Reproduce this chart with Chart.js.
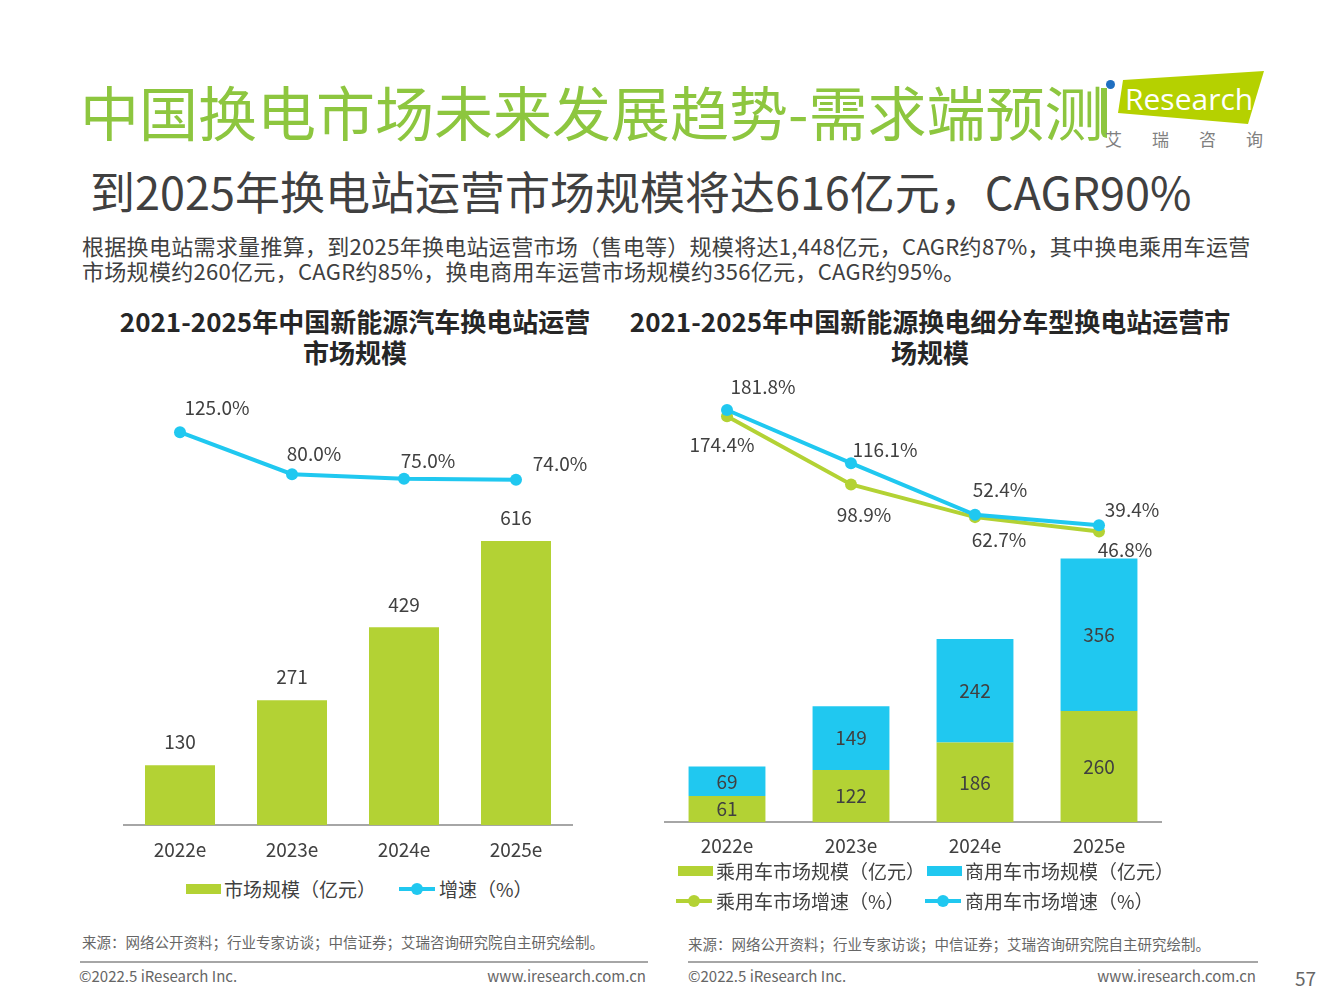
<!DOCTYPE html>
<html>
<head>
<meta charset="utf-8">
<script src="https://cdn.jsdelivr.net/npm/chart.js@4.4.0/dist/chart.umd.min.js"></script>
<style>
    body { margin: 0; background: #fff; font-family: "Noto Sans CJK SC", "Noto Sans", sans-serif; color: #404040; }
    #page { position: relative; width: 1333px; height: 1000px; overflow: hidden; }
    .abs { position: absolute; white-space: nowrap; }
    #judul { left: 80px; top: 76px; font-size: 59px; line-height: 70px; color: #8DC63F; }
    #subjudul { left: 90px; top: 162px; font-size: 45px; line-height: 58px; color: #404040; }
    #paragraf { left: 82px; top: 233px; font-size: 22px; line-height: 25px; letter-spacing: 0.3px; color: #404040; }
    .judul-grafik { top: 305px; font-size: 26px; line-height: 31px; font-weight: bold; color: #262626; text-align: center; }
    canvas { position: absolute; }
    .legenda { position: absolute; font-size: 19px; line-height: 24px; color: #404040; }
    .item { position: absolute; white-space: nowrap; display: flex; align-items: center; }
    .kotak { width: 35px; height: 10px; margin-right: 3px; }
    .garis { position: relative; width: 36px; height: 4px; margin-right: 4px; }
    .garis span { position: absolute; left: 12px; top: -4px; width: 12px; height: 12px; border-radius: 50%; }
    .sumber { font-size: 14.5px; color: #666; }
    .kaki { font-size: 15px; color: #666; }
    .garis-kaki { position: absolute; height: 2px; background: #a6a6a6; }
    #logo-bidang { position: absolute; left: 1118px; top: 71px; width: 146px; height: 54px; background: #B5D100;
        clip-path: polygon(5px 9px, 146px 0, 130px 53px, 0 42px); }
</style>
</head>
<body>
<div id="page">
    <div id="judul" class="abs">中国换电市场未来发展趋势-需求端预测</div>
    <div id="logo-bidang"></div>
    <div class="abs" style="left:1101px;top:88px;width:6px;height:50px;background:#8DC63F;border-radius:0 0 0 6px;"></div>
    <div class="abs" style="left:1106px;top:80px;width:9px;height:9px;background:#1F6FC1;border-radius:50%;"></div>
    <div class="abs" style="left:1125px;top:80px;font-size:30px;line-height:38px;color:#fff;font-family:'Open Sans',sans-serif;">Research</div>
    <div class="abs" style="left:1105px;top:128px;font-size:17px;line-height:22px;color:#808080;letter-spacing:30px;">艾瑞咨询</div>

    <div id="subjudul" class="abs">到2025年换电站运营市场规模将达616亿元，CAGR90%</div>
    <div id="paragraf" class="abs">根据换电站需求量推算，到2025年换电站运营市场（售电等）规模将达1,448亿元，CAGR约87%，其中换电乘用车运营<br>市场规模约260亿元，CAGR约85%，换电商用车运营市场规模约356亿元，CAGR约95%。</div>

    <div class="abs judul-grafik" style="left:75px;width:560px;">2021-2025年中国新能源汽车换电站运营<br>市场规模</div>
    <div class="abs judul-grafik" style="left:620px;width:620px;">2021-2025年中国新能源换电细分车型换电站运营市<br>场规模</div>

    <canvas id="grafikKiri" width="500" height="496" style="left:100px;top:370px;width:500px;height:496px;"></canvas>
    <canvas id="grafikKanan" width="550" height="491" style="left:640px;top:370px;width:550px;height:491px;"></canvas>

    <div id="legendaKiri" class="legenda"></div>
    <div id="legendaKanan" class="legenda"></div>

    <div class="abs sumber" style="left:82px;top:931px;">来源：网络公开资料；行业专家访谈；中信证券；艾瑞咨询研究院自主研究绘制。</div>
    <div class="abs sumber" style="left:688px;top:933px;">来源：网络公开资料；行业专家访谈；中信证券；艾瑞咨询研究院自主研究绘制。</div>
    <div class="garis-kaki" style="left:80px;top:961px;width:568px;"></div>
    <div class="garis-kaki" style="left:688px;top:961px;width:570px;"></div>
    <div class="abs kaki" style="left:79px;top:965px;">©2022.5 iResearch Inc.</div>
    <div class="abs kaki" style="right:687px;top:965px;">www.iresearch.com.cn</div>
    <div class="abs kaki" style="left:688px;top:965px;">©2022.5 iResearch Inc.</div>
    <div class="abs kaki" style="right:77px;top:965px;">www.iresearch.com.cn</div>
    <div class="abs" style="left:1295px;top:964px;font-size:19px;color:#666;">57</div>
</div>

<script>
// data
const tahun = ['2022e', '2023e', '2024e', '2025e'];
const skalaPasar = [130, 271, 429, 616];
const pertumbuhanPasar = [125.0, 80.0, 75.0, 74.0];
const skalaPenumpang = [61, 122, 186, 260];
const skalaKomersial = [69, 149, 242, 356];
const pertumbuhanPenumpang = [174.4, 98.9, 62.7, 46.8];
const pertumbuhanKomersial = [181.8, 116.1, 52.4, 39.4];

const hijau = '#B3D234';
const biru = '#20C8F0';
const hurufGrafik = '"Noto Sans CJK SC", "Noto Sans", sans-serif';

Chart.defaults.font.family = hurufGrafik;
Chart.defaults.color = '#404040';

// tulis angka di atas / di tengah batang dan di samping titik garis
const labelNilai = {
    id: 'labelNilai',
    afterDatasetsDraw(chart) {
        const ctx = chart.ctx;
        chart.data.datasets.forEach(function (ds, i) {
            if (!ds.tanda) return;
            const meta = chart.getDatasetMeta(i);
            ctx.save();
            ctx.font = '19px ' + hurufGrafik;
            ctx.fillStyle = '#404040';
            ctx.textAlign = 'center';
            ctx.textBaseline = 'middle';
            meta.data.forEach(function (el, j) {
                const v = ds.data[j];
                const teks = ds.tanda.persen ? v.toFixed(1) + '%' : String(v);
                const dx = Array.isArray(ds.tanda.dx) ? ds.tanda.dx[j] : ds.tanda.dx;
                const dy = Array.isArray(ds.tanda.dy) ? ds.tanda.dy[j] : ds.tanda.dy;
                let y = el.y + dy;
                if (ds.tanda.posisi === 'tengah') {
                    y = (el.y + el.base) / 2;
                }
                ctx.fillText(teks, el.x + dx, y);
            });
            ctx.restore();
        });
    }
};

new Chart('grafikKiri', {
    type: 'bar',
    data: {
        labels: tahun,
        datasets: [{
            type: 'line',
            label: '增速（%）',
            data: pertumbuhanPasar,
            yAxisID: 'y2',
            borderColor: biru,
            backgroundColor: biru,
            borderWidth: 4,
            pointRadius: 6,
            pointBackgroundColor: biru,
            pointBorderWidth: 0,
            tanda: { persen: true, dx: [37, 22, 24, 44], dy: [-24, -20, -18, -16] }
        }, {
            label: '市场规模（亿元）',
            data: skalaPasar,
            yAxisID: 'y',
            backgroundColor: hijau,
            barPercentage: 0.625,
            categoryPercentage: 1,
            tanda: { dx: 0, dy: -23 }
        }]
    },
    options: {
        responsive: false,
        animation: false,
        layout: { padding: { left: 24, right: 28, top: 10, bottom: 0 } },
        plugins: { legend: { display: false }, tooltip: { enabled: false } },
        scales: {
            x: {
                grid: { display: false },
                border: { display: true, color: '#a6a6a6', width: 2 },
                ticks: { font: { size: 19 }, color: '#404040', padding: 5 }
            },
            y: { display: false, min: 0, max: 965 },
            y2: { display: false, min: -296.1, max: 180.9 }
        }
    },
    plugins: [labelNilai]
});

new Chart('grafikKanan', {
    type: 'bar',
    data: {
        labels: tahun,
        datasets: [{
            type: 'line',
            label: '商用车市场增速（%）',
            data: pertumbuhanKomersial,
            yAxisID: 'yb',
            borderColor: biru,
            backgroundColor: biru,
            borderWidth: 4,
            pointRadius: 6,
            pointBackgroundColor: biru,
            pointBorderWidth: 0,
            tanda: { persen: true, dx: [36, 34, 25, 33], dy: [-23, -13, -25, -16] }
        }, {
            type: 'line',
            label: '乘用车市场增速（%）',
            data: pertumbuhanPenumpang,
            yAxisID: 'yg',
            borderColor: hijau,
            backgroundColor: hijau,
            borderWidth: 4,
            pointRadius: 6,
            pointBackgroundColor: hijau,
            pointBorderWidth: 0,
            tanda: { persen: true, dx: [-5, 13, 24, 26], dy: [29, 30, 23, 18] }
        }, {
            label: '乘用车市场规模（亿元）',
            data: skalaPenumpang,
            yAxisID: 'y',
            backgroundColor: hijau,
            barPercentage: 0.62,
            categoryPercentage: 1,
            tanda: { posisi: 'tengah', dx: 0, dy: 0 }
        }, {
            label: '商用车市场规模（亿元）',
            data: skalaKomersial,
            yAxisID: 'y',
            backgroundColor: biru,
            barPercentage: 0.62,
            categoryPercentage: 1,
            tanda: { posisi: 'tengah', dx: 0, dy: 0 }
        }]
    },
    options: {
        responsive: false,
        animation: false,
        layout: { padding: { left: 25, right: 29, top: 10, bottom: 0 } },
        plugins: { legend: { display: false }, tooltip: { enabled: false } },
        scales: {
            x: {
                stacked: true,
                grid: { display: false },
                border: { display: true, color: '#a6a6a6', width: 2 },
                ticks: { font: { size: 19 }, color: '#404040', padding: 4 }
            },
            y: { display: false, stacked: true, min: 0, max: 1033 },
            yb: { display: false, min: -327, max: 218.8 },
            yg: { display: false, min: -275, max: 214.5 }
        }
    },
    plugins: [labelNilai]
});

// legenda html
function buatLegenda(idLegenda, daftar) {
    let html = '';
    daftar.forEach(function (it) {
        let tanda = it.jenis === 'garis'
            ? '<div class="garis" style="background:' + it.warna + '"><span style="background:' + it.warna + '"></span></div>'
            : '<div class="kotak" style="background:' + it.warna + '"></div>';
        html += '<div class="item" style="left:' + it.x + 'px;top:' + it.y + 'px;">' + tanda + it.label + '</div>';
    });
    document.getElementById(idLegenda).innerHTML = html;
}

buatLegenda('legendaKiri', [
    { label: '市场规模（亿元）', warna: hijau, jenis: 'kotak', x: 186, y: 877 },
    { label: '增速（%）', warna: biru, jenis: 'garis', x: 399, y: 877 }
]);
buatLegenda('legendaKanan', [
    { label: '乘用车市场规模（亿元）', warna: hijau, jenis: 'kotak', x: 678, y: 859 },
    { label: '商用车市场规模（亿元）', warna: biru, jenis: 'kotak', x: 927, y: 859 },
    { label: '乘用车市场增速（%）', warna: hijau, jenis: 'garis', x: 676, y: 889 },
    { label: '商用车市场增速（%）', warna: biru, jenis: 'garis', x: 925, y: 889 }
]);
</script>
</body>
</html>
